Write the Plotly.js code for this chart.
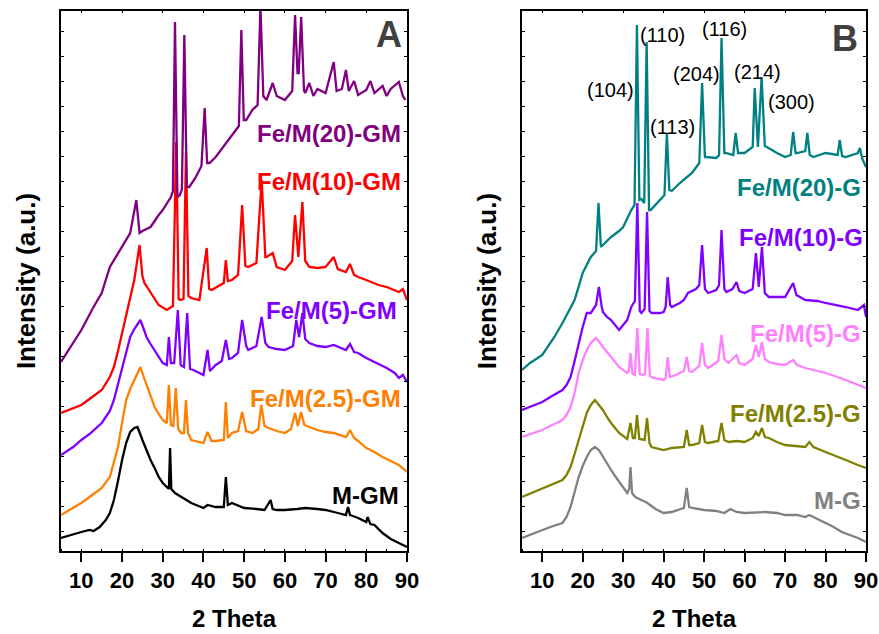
<!DOCTYPE html>
<html>
<head>
<meta charset="utf-8">
<script src="https://cdn.plot.ly/plotly-3.0.1.min.js"></script>
<style>html,body{margin:0;padding:0;background:#fff;}#chart{width:879px;height:634px;}</style>
</head>
<body>
<div id="chart"></div>
<script>
// ---------- DATA (2θ, intensity in a.u., stacked as in the figure) ----------
const mgm = [[5,13],[6.5,15],[8,17],[10,19],[12,21],[13,20],[14.5,24],[16,31],[17,38],[18,51],[19,70],[20,91],[21,108],[22,119],[23,123],[23.8,124],[25,111],[26,100],[27,91],[28,83],[29,74],[30,68],[31,64],[31.5,62],[31.8,103],[32.1,62],[33,58],[35,53],[37,48],[40,43],[41,46],[43,44],[45,44],[45.5,74],[46,46],[47,48],[50,43],[53,42],[55,41],[56.5,51],[57,42],[58,41],[60,41],[63,42],[65,43],[68,42],[70,41],[73,38],[75,36],[75.5,44],[76,36],[78,33],[80,29],[80.3,34],[81,27],[82,26],[84,18],[86,12],[88,8],[90,4]];
const fe25gm = [[5,36],[8,43],[10,48],[12,54],[15,63],[17,74],[18,88],[19,104],[20,128],[21,151],[22,162],[23,171],[24.5,184],[25.5,172],[26,166],[27,155],[28,144],[29,137],[30,131],[31,128],[31.5,166],[32,126],[32.6,125],[33.2,163],[33.8,122],[34.5,118],[35.2,118],[35.7,151],[36.2,118],[37,111],[38,110],[40,108],[41,119],[42,110],[43,110],[45,111],[45.5,149],[46,113],[47,118],[48.5,120],[49.5,139],[50.5,120],[52,118],[53.5,122],[54.2,146],[55,125],[56,123],[58,120],[60,118],[61.5,122],[62.5,138],[63.2,125],[64,139],[64.8,126],[66,124],[68,121],[70,119],[72,118],[75,114],[76,121],[77,113],[78,110],[80,103],[82,99],[84,94],[86,90],[88,86],[90,79]];
const fe5gm = [[5,96],[8,104],[10,111],[12,117],[15,128],[17,140],[18,151],[19,167],[20,184],[21,200],[22,214],[23,222],[24.5,231],[25.5,220],[26,214],[27,207],[28,201],[29,194],[30,188],[31,186],[31.5,214],[32,188],[32.8,188],[33.7,241],[34.4,186],[35.2,184],[36,238],[36.7,182],[37.5,181],[39,178],[40,176],[41,201],[41.6,180],[43,186],[44.5,190],[45.5,211],[46.3,192],[47,193],[48.5,198],[49.5,231],[50.5,205],[51,201],[53,205],[54.3,234],[55.2,208],[56,204],[58,202],[60,201],[62,205],[62.8,231],[63.5,214],[64.3,238],[65,212],[66,208],[68,205],[70,204],[72,206],[75,201],[76,207],[77,199],[78,198],[80,193],[82,189],[85,183],[87,178],[88,173],[89,176],[90,169]];
const fe10gm = [[5,138],[8,143],[10,146],[12,152],[15,161],[17,174],[18,184],[19,200],[20,218],[21,236],[22,255],[23,271],[24.3,306],[25,275],[25.5,268],[27,258],[29,246],[31,241],[32.5,245],[33.3,409],[33.9,252],[34.3,251],[35.1,252],[35.7,399],[36.3,255],[37,253],[39,251],[40.8,303],[41.4,262],[42,261],[44,266],[45,268],[45.5,291],[46,270],[47,271],[48.5,276],[49.5,346],[50.3,285],[51,284],[53,288],[54.3,371],[55.2,294],[55.5,294],[57,298],[58,284],[60,281],[61.8,290],[62.5,336],[63.3,294],[64.3,349],[65,290],[66,284],[68,283],[70,284],[72,294],[73,282],[75,279],[76,287],[77,276],[78,274],[80,271],[83,266],[85,264],[88,259],[89,262],[90,251]];
const fe20gm = [[5,189],[7,202],[10,221],[13,244],[15,258],[17,284],[20,304],[22,318],[23.5,351],[24.3,318],[25,320],[27,324],[29,336],[30,341],[32,354],[32.5,360],[33,529],[33.6,354],[34.2,356],[34.7,362],[35.3,516],[35.9,364],[36.5,364],[38,373],[39.5,385],[40.3,443],[40.9,388],[41.5,388],[43,394],[45,405],[46,411],[48,421],[48.7,425],[49.3,521],[49.9,431],[50.5,431],[52,441],[53.3,446],[54,545],[54.7,455],[55.5,451],[57,468],[58,455],[60,451],[61.8,460],[62.5,536],[63.1,478],[63.4,478],[64,534],[64.7,460],[65,458],[66,468],[67,455],[68,462],[70,458],[72,489],[72.7,460],[74,462],[75,481],[75.7,460],[77,470],[78,456],[80,461],[81,470],[82,458],[84,465],[85,455],[86,462],[88,469],[89,455],[89.6,451]];

const mg = [[5,13],[8,18],[10,21],[12,24],[15,28],[16,34],[17,44],[18,58],[19,74],[20,85],[21,94],[22,101],[23,104],[24,101],[25,94],[26,88],[27,81],[28,75],[29,69],[30,63],[31,58],[31.5,62],[31.8,84],[32.2,58],[33,54],[35,50],[36,48],[38,42],[40,38],[42,39],[45,43],[45.7,63],[46.3,44],[47,43],[50,41],[53,40],[55,38],[56.5,42],[58,39],[60,38],[63,39],[65,39],[68,38],[70,36],[73,36],[75,34],[76,36],[78,32],[80,28],[82,24],[84,19],[86,16],[88,13],[90,9]];
const fe25g = [[5,54],[8,59],[10,63],[12,66],[15,71],[16,76],[17,84],[18,97],[19,111],[20,125],[21,138],[22,146],[23,151],[24,146],[25,141],[26,134],[27,128],[29,118],[31,112],[31.8,128],[32.4,113],[32.9,113],[33.4,136],[34,112],[35.3,111],[35.9,133],[36.5,108],[37,104],[40,101],[42,103],[45,104],[45.7,121],[46.3,106],[47,106],[48.8,108],[49.5,126],[50.2,109],[51,108],[53.5,110],[54.3,128],[55,111],[56,109],[58,110],[60,109],[62,113],[62.8,119],[63.5,115],[64.3,123],[65,114],[66,113],[68,109],[70,106],[73,105],[75,104],[76,109],[77,104],[80,99],[82,96],[85,91],[88,86],[90,83]];
const fe5g = [[5,114],[8,118],[10,121],[12,125],[15,131],[16,136],[17,144],[18,158],[19,178],[20,191],[21,201],[22,208],[23.3,213],[24.5,207],[25,204],[27,194],[29,184],[31,178],[31.4,180],[31.8,198],[32.3,177],[32.9,176],[33.5,223],[34.1,177],[34.8,176],[35.4,177],[36,223],[36.6,175],[37.5,173],[40,171],[40.5,173],[41,194],[41.5,174],[43,176],[45,180],[45.7,194],[46.3,180],[47,179],[48.8,185],[49.5,208],[50.2,186],[51,183],[53.5,190],[54.3,216],[55,192],[56,188],[58,196],[58.7,188],[60,186],[62,192],[62.8,206],[63.5,194],[64.3,209],[65,192],[66,189],[68,187],[70,186],[72,191],[73,186],[75,183],[78,180],[80,178],[83,174],[85,171],[88,166],[90,163]];
const fe10g = [[5,141],[8,146],[10,149],[12,154],[15,161],[16,166],[17,174],[18,190],[19,208],[20,224],[21,238],[22,238],[23.3,246],[24,264],[24.7,244],[25,239],[26,234],[27,231],[29,221],[31,231],[32,244],[32.9,250],[33.5,348],[34.1,240],[34.5,238],[35.3,242],[35.9,339],[36.5,240],[37,238],[39,238],[40,239],[40.5,244],[41,274],[41.6,246],[42,244],[44,248],[45,251],[46,258],[48,262],[48.8,266],[49.5,306],[50.2,262],[51,258],[53,261],[53.7,266],[54.3,321],[55,262],[55.5,259],[57,262],[58,269],[58.7,260],[60,258],[62,262],[62.8,298],[63.5,264],[64.3,304],[65,258],[66,254],[68,254],[70,254],[72,268],[72.8,256],[75,251],[78,250],[80,248],[83,246],[85,244],[88,241],[89.5,246],[90,234]];
const fe20g = [[5,181],[7,188],[10,196],[13,214],[15,228],[17,244],[18,251],[20,278],[22,294],[23.3,300],[23.9,348],[24.5,304],[26,310],[27,314],[29,320],[30,324],[32,341],[32.8,346],[33.4,526],[34,351],[34.5,352],[35.2,348],[35.8,509],[36.4,341],[36.8,341],[39,351],[40.2,356],[40.8,418],[41.4,361],[42,360],[44,368],[47,378],[48.8,388],[49.5,468],[50.2,394],[50.5,394],[53,393],[53.7,396],[54.3,513],[55,398],[55.3,398],[57.2,396],[57.8,418],[58.4,398],[60,398],[62,404],[62.5,463],[63.3,404],[64.2,474],[65,405],[65.5,404],[68,398],[70,394],[71.4,396],[72,419],[72.6,398],[73,398],[75,400],[75.5,418],[76.1,396],[77,394],[80,398],[83,396],[83.5,411],[84.1,395],[85,394],[88,398],[88.5,403],[89.1,392],[90,384]];

const namesA = ['M-GM','Fe/M(2.5)-GM','Fe/M(5)-GM','Fe/M(10)-GM','Fe/M(20)-GM'];
const namesB = ['M-G','Fe/M(2.5)-G','Fe/M(5)-G','Fe/M(10)-G','Fe/M(20)-G'];
const millerLabels = ['(104)','(110)','(113)','(204)','(116)','(214)','(300)'];
const xTicks = [10,20,30,40,50,60,70,80,90];

// ---------- STYLE ----------
const colorsA = ['#000000','#ff8000','#8000ff','#ff0000','#800080'];
const colorsB = ['#808080','#808000','#ff80ff','#8000ff','#008080'];
const seriesA = [mgm, fe25gm, fe5gm, fe10gm, fe20gm];
const seriesB = [mg, fe25g, fe5g, fe10g, fe20g];
const labelPosA = [[88.6,56],[89,153],[88,241],[89,370],[89,418]];
const labelPosB = [[89.3,51],[89.3,138],[89.3,218],[89.8,314],[89.3,364]];
const millerPos = [[26.9,461],[39.7,516],[42.2,424],[48.1,477],[55,522],[63.1,479],[71.5,449]];
const FONT = 'Arial, "Liberation Sans", sans-serif';

const traces = [];
function addSeries(list, colors, names, xa) {
  list.forEach((s, i) => {
    traces.push({
      type: 'scatter', mode: 'lines',
      x: s.map(p => p[0]), y: s.map(p => p[1]),
      xaxis: xa, yaxis: xa === 'x' ? 'y' : 'y2',
      name: names[i], showlegend: false, hoverinfo: 'skip',
      line: {color: colors[i], width: 2.3}
    });
  });
}
addSeries(seriesA, colorsA, namesA, 'x');
addSeries(seriesB, colorsB, namesB, 'x2');
// empty traces so the top tick axes are drawn
traces.push({type:'scatter', x:[], y:[], xaxis:'x3', yaxis:'y', showlegend:false, hoverinfo:'skip'});
traces.push({type:'scatter', x:[], y:[], xaxis:'x4', yaxis:'y2', showlegend:false, hoverinfo:'skip'});

const domA = [61/879, 407/879];
const domB = [522/879, 866/879];

function xAxis(dom, anchor) {
  return {
    domain: dom, anchor: anchor, range: [5, 90], tickmode: 'array', tickvals: xTicks,
    ticks: 'outside', ticklen: 9, tickwidth: 2, tickcolor: '#000',
    minor: {tickmode: 'linear', tick0: 5, dtick: 5, ticks: 'inside', ticklen: 2, tickwidth: 1, tickcolor: '#000'},
    showline: true, linewidth: 2, linecolor: '#000', mirror: true,
    showgrid: false, zeroline: false, ticklabeloverflow: 'allow',
    tickfont: {family: FONT, size: 22, color: '#000', weight: 'bold'},
    title: {text: '2 Theta', font: {family: FONT, size: 24, color: '#000', weight: 'bold'}, standoff: 18}
  };
}
function topAxis(over, anchor) {
  return {
    overlaying: over, anchor: anchor, side: 'top', range: [5, 90],
    tickmode: 'linear', tick0: 10, dtick: 10, ticks: 'inside', ticklen: 2, tickwidth: 1, tickcolor: '#000',
    showticklabels: false, showgrid: false, zeroline: false, showline: false
  };
}
function yAxis(anchor) {
  return {
    domain: [0, 1], anchor: anchor, range: [0, 540],
    tickmode: 'linear', tick0: 20, dtick: 25, ticks: 'inside', ticklen: 3, tickwidth: 1, tickcolor: '#000',
    showticklabels: false, showline: true, linewidth: 2, linecolor: '#000', mirror: 'ticks',
    showgrid: false, zeroline: false,
    title: {text: 'Intensity (a.u.)', font: {family: FONT, size: 26, color: '#000', weight: 'bold'}, standoff: 16}
  };
}

const annotations = [];
function addLabels(names, pos, colors, xa, ya) {
  names.forEach((n, i) => annotations.push({
    text: n, x: pos[i][0], y: pos[i][1], xref: xa, yref: ya, xanchor: 'right', yanchor: 'middle',
    showarrow: false, font: {family: FONT, size: 24, color: colors[i], weight: 'bold'}
  }));
}
addLabels(namesA, labelPosA, colorsA, 'x', 'y');
addLabels(namesB, labelPosB, colorsB, 'x2', 'y2');
millerLabels.forEach((t, i) => annotations.push({
  text: t, x: millerPos[i][0], y: millerPos[i][1], xref: 'x2', yref: 'y2',
  xanchor: 'center', yanchor: 'middle', showarrow: false,
  font: {family: FONT, size: 20, color: '#000'}
}));
annotations.push({text: 'A', x: 85.5, y: 517, xref: 'x', yref: 'y', showarrow: false,
  font: {family: FONT, size: 36, color: '#404040', weight: 'bold'}});
annotations.push({text: 'B', x: 84.8, y: 513, xref: 'x2', yref: 'y2', showarrow: false,
  font: {family: FONT, size: 36, color: '#404040', weight: 'bold'}});

const layout = {
  width: 879, height: 634,
  margin: {l: 0, r: 0, t: 11, b: 83, pad: 0},
  paper_bgcolor: '#fff', plot_bgcolor: '#fff',
  showlegend: false,
  xaxis: xAxis(domA, 'y'),
  xaxis2: xAxis(domB, 'y2'),
  xaxis3: topAxis('x', 'y'),
  xaxis4: topAxis('x2', 'y2'),
  yaxis: yAxis('x'),
  yaxis2: yAxis('x2'),
  annotations: annotations
};

Plotly.newPlot('chart', traces, layout, {displayModeBar: false, staticPlot: true});
</script>
</body>
</html>
